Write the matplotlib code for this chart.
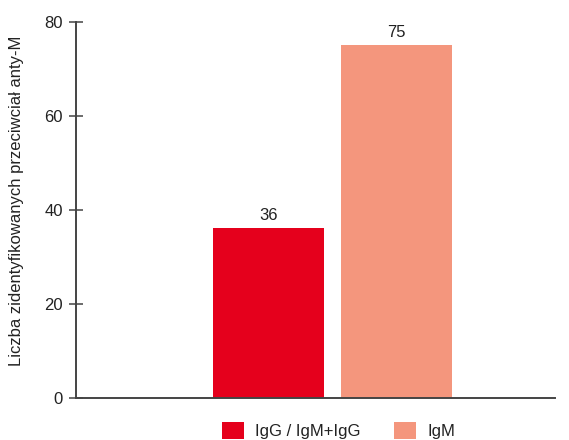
import matplotlib
matplotlib.use("Agg")
import matplotlib.pyplot as plt
from matplotlib.patches import Patch

categories = ["IgG / IgM+IgG", "IgM"]
values = [36, 75]
colors = ["#E5001C", "#F4967D"]
yticks = [0, 20, 40, 60, 80]
ylabel = "Liczba zidentyfikowanych przeciwciał anty-M"

plt.rcParams['font.family'] = ['Liberation Sans', 'DejaVu Sans']

fig = plt.figure(figsize=(5.69, 4.40), dpi=100)
ax = fig.add_axes([76/569, (440-397.7)/440, (555-76)/569, (397.7-21.7)/440])

x = [0, 1]
bars = ax.bar(x, values, width=0.867, color=colors, zorder=2)
for xi, v in zip(x, values):
    ax.annotate(str(v), xy=(xi, v), xytext=(0, 4), textcoords='offset points',
                ha='center', va='bottom', fontsize=12, color='#222222')

ax.set_xlim(-1.504, 2.238)
ax.set_ylim(0, 80)
ax.set_yticks(yticks)
ax.set_xticks([])
for s in ['top', 'right']:
    ax.spines[s].set_visible(False)
for s in ['left', 'bottom']:
    ax.spines[s].set_color('#444444')
    ax.spines[s].set_linewidth(1.4)
ax.tick_params(axis='y', direction='inout', length=10, width=1.1, color='#444444',
               labelsize=12, labelcolor='#222222', pad=4.5)
ax.set_ylabel(ylabel, fontsize=12, color='#222222')
ax.yaxis.set_label_coords(-0.1086, 0.523)

handles = [Patch(facecolor=c, edgecolor='none') for c in colors]
fig.legend(handles, categories, loc='center', bbox_to_anchor=(0.595, 0.0216), ncol=2,
           frameon=False, fontsize=12, handlelength=1.32, handleheight=1.2,
           handletextpad=0.66, columnspacing=2.04, labelcolor='#222222',
           borderpad=0, borderaxespad=0)

fig.savefig("out.png", dpi=100)
